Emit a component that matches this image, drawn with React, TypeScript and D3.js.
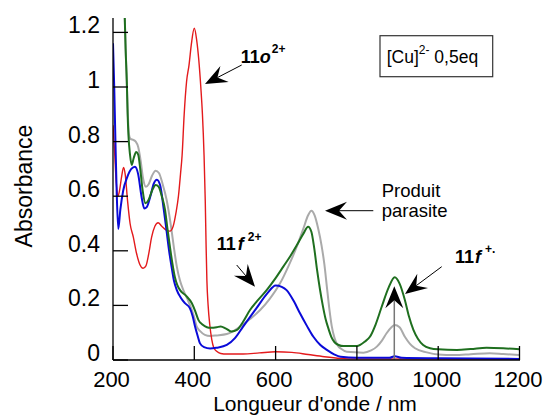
import React from "react";
import * as d3 from "d3";

// ---------- data (wavelength nm, absorbance) ----------
const xTickValues = [200, 400, 600, 800, 1000, 1200];
const yTickValues = [0, 0.2, 0.4, 0.6, 0.8, 1, 1.2];
const yTickLabels = ["0", "0.2", "0.4", "0.6", "0.8", "1", "1.2"];

const redCurve: [number, number][] = [
  [200, 0.86], [204, 0.76], [208, 0.65], [212, 0.6], [216, 0.62], [221, 0.67], [226, 0.705],
  [230, 0.68], [236, 0.58], [242, 0.5], [250, 0.45], [258, 0.39], [266, 0.35], [274, 0.336],
  [281, 0.345], [288, 0.39], [295, 0.45], [303, 0.49], [311, 0.503], [320, 0.49], [330, 0.477],
  [340, 0.472], [348, 0.49], [355, 0.54], [361, 0.6], [366, 0.68], [370, 0.75], [375, 0.897],
  [381, 1.02], [387, 1.08], [393, 1.16], [400, 1.215], [406, 1.17], [411, 1.1], [416, 1.0],
  [420, 0.9], [424, 0.75], [427, 0.58], [429, 0.42], [431, 0.29], [434, 0.2], [438, 0.13],
  [443, 0.075], [448, 0.045], [455, 0.032], [465, 0.024], [480, 0.022], [520, 0.022],
  [560, 0.026], [600, 0.03], [640, 0.028], [680, 0.02], [720, 0.012], [760, 0.006],
  [800, 0.004], [1200, 0.003],
];

const blueCurve: [number, number][] = [
  [200, 1.16], [203, 1.0], [206, 0.8], [209, 0.62], [213, 0.48], [218, 0.55], [225, 0.62],
  [235, 0.67], [245, 0.7], [254, 0.708], [262, 0.68], [270, 0.6], [277, 0.555], [283, 0.56],
  [292, 0.6], [300, 0.645], [308, 0.66], [316, 0.64], [325, 0.55], [332, 0.47], [338, 0.4],
  [344, 0.342], [350, 0.29], [357, 0.256], [366, 0.23], [377, 0.208], [389, 0.19], [396, 0.16],
  [402, 0.122], [408, 0.09], [414, 0.061], [424, 0.047], [439, 0.042], [455, 0.045],
  [480, 0.055], [500, 0.08], [520, 0.122], [553, 0.19], [580, 0.245], [600, 0.273],
  [615, 0.268], [627, 0.256], [645, 0.215], [660, 0.171], [677, 0.125], [693, 0.085],
  [710, 0.055], [726, 0.037], [745, 0.02], [760, 0.012], [800, 0.008], [880, 0.008],
  [893, 0.014], [910, 0.008], [1000, 0.006], [1200, 0.004],
];

const grayCurve: [number, number][] = [
  [224, 1.5], [229, 1.25], [232, 1.1], [236, 0.92], [239, 0.83], [243, 0.81], [250, 0.806],
  [256, 0.8], [262, 0.78], [268, 0.73], [274, 0.665], [281, 0.635], [288, 0.645], [296, 0.675],
  [305, 0.693], [313, 0.685], [322, 0.645], [332, 0.586], [338, 0.535], [344, 0.476],
  [350, 0.41], [357, 0.342], [365, 0.29], [373, 0.256], [384, 0.22], [394, 0.183], [400, 0.155],
  [406, 0.122], [415, 0.105], [426, 0.092], [439, 0.088], [455, 0.09], [480, 0.095],
  [495, 0.105], [512, 0.122], [537, 0.15], [562, 0.183], [586, 0.225], [611, 0.281],
  [632, 0.345], [652, 0.415], [668, 0.48], [680, 0.53], [688, 0.547], [696, 0.53], [705, 0.48],
  [713, 0.42], [720, 0.35], [726, 0.27], [732, 0.19], [738, 0.125], [745, 0.08], [752, 0.055],
  [762, 0.04], [775, 0.03], [816, 0.027], [835, 0.035], [849, 0.049], [862, 0.072],
  [873, 0.098], [885, 0.12], [893, 0.128], [905, 0.12], [918, 0.085], [930, 0.06],
  [943, 0.043], [972, 0.028], [1000, 0.02], [1040, 0.018], [1080, 0.021], [1127, 0.025],
  [1160, 0.022], [1200, 0.018],
];

const greenCurve: [number, number][] = [
  [224, 1.5], [229, 1.25], [231, 1.14], [234, 1.02], [236, 0.9], [238, 0.824], [242, 0.75],
  [246, 0.714], [251, 0.74], [257, 0.762], [262, 0.752], [267, 0.7], [273, 0.62], [280, 0.574],
  [287, 0.585], [296, 0.62], [305, 0.641], [312, 0.635], [320, 0.6], [328, 0.55], [334, 0.48],
  [340, 0.415], [346, 0.355], [352, 0.305], [358, 0.275], [365, 0.256], [380, 0.235],
  [394, 0.208], [402, 0.18], [410, 0.147], [420, 0.13], [431, 0.12], [440, 0.118],
  [455, 0.12], [465, 0.123], [478, 0.115], [492, 0.104], [505, 0.11], [520, 0.14],
  [537, 0.183], [557, 0.22], [578, 0.256], [600, 0.3], [619, 0.342], [636, 0.38], [652, 0.42],
  [668, 0.462], [680, 0.488], [688, 0.47], [695, 0.41], [702, 0.33], [709, 0.26], [716, 0.2],
  [723, 0.15], [730, 0.115], [737, 0.085], [745, 0.065], [755, 0.055], [767, 0.051],
  [800, 0.051], [820, 0.068], [832, 0.085], [846, 0.13], [861, 0.195], [878, 0.265],
  [893, 0.303], [905, 0.28], [918, 0.22], [928, 0.16], [939, 0.11], [950, 0.078], [963, 0.055],
  [980, 0.043], [1000, 0.039], [1046, 0.037], [1080, 0.04], [1119, 0.045], [1160, 0.043],
  [1200, 0.039],
];

const arrowWavelength = 892;
const arrowTop = 0.27;

// ---------- layout ----------
const W = 545;
const H = 416;
const FONT = "'Liberation Sans', Arial, Helvetica, sans-serif";

const x = d3.scaleLinear().domain([200, 1200]).range([113, 519.5]);
const y = d3.scaleLinear().domain([0, 1.25]).range([360, 18.75]);

const line = d3
  .line<[number, number]>()
  .x((d) => x(d[0]))
  .y((d) => y(d[1]))
  .curve(d3.curveMonotoneX);

function arrowHead(
  tip: [number, number],
  tail: [number, number],
  L = 22,
  Wd = 9,
  N = 14
) {
  const dx = tail[0] - tip[0];
  const dy = tail[1] - tip[1];
  const len = Math.hypot(dx, dy);
  const ux = dx / len;
  const uy = dy / len;
  const px = -uy;
  const py = ux;
  const bx = tip[0] + ux * L;
  const by = tip[1] + uy * L;
  const b1 = [bx + px * Wd, by + py * Wd];
  const b2 = [bx - px * Wd, by - py * Wd];
  const n = [tip[0] + ux * N, tip[1] + uy * N];
  const d = `M${tip[0]},${tip[1]}L${b1[0]},${b1[1]}L${n[0]},${n[1]}L${b2[0]},${b2[1]}Z`;
  return { d, notch: n };
}

function Arrow({
  tip,
  tail,
  color = "#000",
  lineColor = "#000",
  lw = 1,
}: {
  tip: [number, number];
  tail: [number, number];
  color?: string;
  lineColor?: string;
  lw?: number;
}) {
  const h = arrowHead(tip, tail);
  return (
    <g>
      <line x1={h.notch[0]} y1={h.notch[1]} x2={tail[0]} y2={tail[1]} stroke={lineColor} strokeWidth={lw} />
      <path d={h.d} fill={color} />
    </g>
  );
}

export default function App() {
  const ax = x(arrowWavelength);
  return (
    <svg
      width={W}
      height={H}
      style={{ position: "absolute", left: 0, top: 0, background: "#fff" }}
      fontFamily={FONT}
    >
      <defs>
        <clipPath id="plot">
          <rect x={113} y={18} width={408} height={343} />
        </clipPath>
      </defs>

      {/* curves */}
      <g clipPath="url(#plot)" fill="none" strokeLinejoin="round">
        <path d={line(grayCurve) || ""} stroke="#aaaaaa" strokeWidth={2} />
        <path d={line(redCurve) || ""} stroke="#e31a1c" strokeWidth={1.4} />
        <path d={line(blueCurve) || ""} stroke="#0a0ad8" strokeWidth={2} />
        <path d={line(greenCurve) || ""} stroke="#1f6f1f" strokeWidth={2} />
      </g>

      {/* vertical arrow at ~900 nm */}
      <Arrow tip={[ax, y(arrowTop)]} tail={[ax, y(0)]} lineColor="#777" lw={1.5} />

      {/* axes */}
      <g stroke="#000" strokeWidth={1.3}>
        <line x1={113} y1={18} x2={113} y2={360} />
        <line x1={113} y1={360} x2={520} y2={360} />
        {yTickValues.map((v) => (
          <line key={"yt" + v} x1={113} x2={128} y1={y(v)} y2={y(v)} />
        ))}
        {xTickValues.map((v) => (
          <line key={"xt" + v} x1={x(v)} x2={x(v)} y1={360} y2={346} />
        ))}
      </g>
      <g fill="#000">
        {yTickValues.map((v, i) => (
          <text key={"yl" + v} x={100} y={y(v) + 1} textAnchor="end" fontSize={23}>
            {yTickLabels[i]}
          </text>
        ))}
        {xTickValues.map((v) => (
          <text key={"xl" + v} x={x(v) - 1.5} y={387} textAnchor="middle" fontSize={22}>
            {v}
          </text>
        ))}
      </g>
      <text x={315} y={411} fontSize={21} textAnchor="middle">
        Longueur d'onde / nm
      </text>
      <text transform="translate(32,186) rotate(-90)" fontSize={23} textAnchor="middle">
        Absorbance
      </text>

      {/* legend box */}
      <rect x={380} y={35.7} width={112.7} height={41} fill="none" stroke="#333" strokeWidth={1.2} />
      <text x={386.7} y={63} fontSize={17.5}>
        [Cu]
        <tspan fontSize={12} dy={-9}>2-</tspan>
        <tspan dy={9}> 0,5eq</tspan>
      </text>

      {/* annotations */}
      <text x={240.7} y={63.3} fontSize={18} fontWeight="bold">
        11<tspan fontStyle="italic">o</tspan>
        <tspan fontSize={12} dy={-10} dx={1}>2+</tspan>
      </text>
      <Arrow tip={[205, 84]} tail={[241.7, 65]} />

      <text x={216.7} y={250} fontSize={18} fontWeight="bold">
        11<tspan fontStyle="italic" dx={2}>f</tspan>
        <tspan fontSize={12} dy={-9} dx={4}>2+</tspan>
      </text>
      <Arrow tip={[255, 286.7]} tail={[236.7, 265]} />

      <text x={381.7} y={196.7} fontSize={18.5}>Produit</text>
      <text x={381.7} y={217} fontSize={18.5}>parasite</text>
      <Arrow tip={[325, 210.7]} tail={[373.3, 210.7]} />

      <text x={455} y={263.3} fontSize={18} fontWeight="bold">
        11<tspan fontStyle="italic" dx={1}>f</tspan>
        <tspan fontSize={12} dy={-10} dx={4}>+.</tspan>
      </text>
      <Arrow tip={[405, 294]} tail={[441.7, 266.7]} />
    </svg>
  );
}
